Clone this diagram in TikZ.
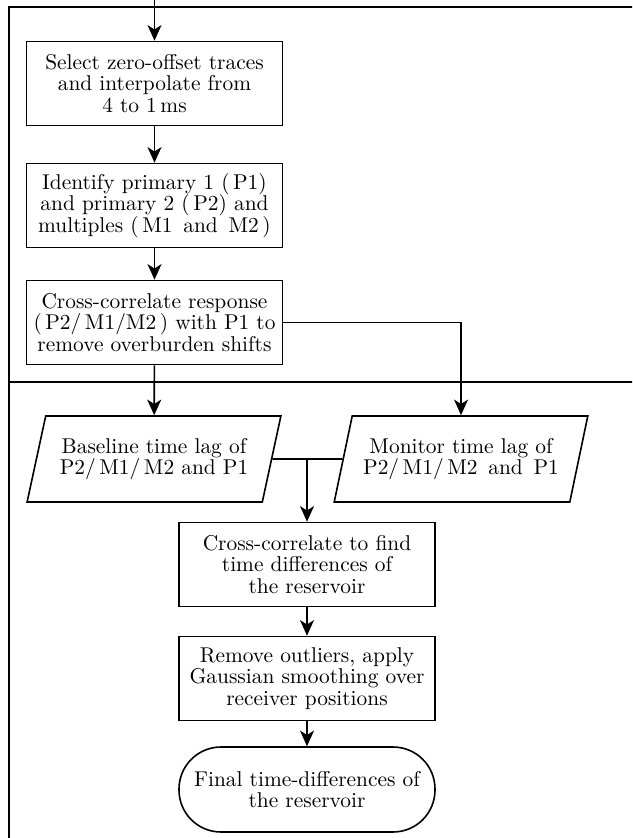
\documentclass[tikz,border=0pt]{standalone}
\usetikzlibrary{arrows.meta,shapes.geometric}
\begin{document}
\begin{tikzpicture}[x=0.5pt,y=-0.5pt,
  every node/.style={font=\fontsize{10.7}{10.85}\selectfont, align=center, inner sep=0pt},
  proc/.style={draw, line width=0.8pt, rectangle, minimum width=128pt, minimum height=42pt},
  io/.style={draw, line width=0.8pt, trapezium, trapezium left angle=69, trapezium right angle=111,
    trapezium stretches=true, minimum width=127pt, minimum height=43pt},
  term/.style={draw, line width=0.8pt, rectangle, rounded corners=21pt, minimum width=128pt, minimum height=42.5pt},
  frame/.style={line width=0.8pt},
  conn/.style={line width=0.8pt},
  arr/.style={line width=0.8pt, -{Stealth[length=7.8pt,width=7pt,inset=2.2pt]}}]
\clip (0,0) rectangle (632,838);
\draw[frame] (640,7.3) -- (9,7.3) -- (9,845);
\draw[frame] (9,382) -- (640,382);
\coordinate (top) at (154.5,-4);
\node[proc] (b1) at (154.5,83.5) {Select zero-offset traces\\ and interpolate from\\ 4 to 1\,ms\hspace*{10pt}};
\node[proc] (b2) at (154.5,205.5) {Identify primary 1 (\,P1)\\ and primary 2 (\,P2) and\\ multiples (\,M1\, and\, M2\,)};
\node[proc] (b3) at (154.5,322.5) {Cross-correlate response\\ (\,P2/\,M1/M2\,) with P1 to\\ remove overburden shifts};
\node[io] (p1) at (154,459) {Baseline time lag of\\ P2/\,M1/\,M2 and P1};
\node[io] (p2) at (461,459) {Monitor time lag of\\ P2/\,M1/\,M2\, and\, P1};
\node[proc] (b4) at (307,564.5) {Cross-correlate to find\\ time differences of\\ the reservoir};
\node[proc] (b5) at (307,678.5) {Remove outliers, apply\\ Gaussian smoothing over\\ receiver positions};
\node[term] (t) at (307,789.5) {Final time-differences of\\ the reservoir};
\draw[arr] (top) -- (b1.north);
\draw[arr] (b1) -- (b2);
\draw[arr] (b2) -- (b3);
\draw[arr] (b3) -- (p1);
\draw[arr] (b3.east) -| (p2.north);
\draw[conn] (p1.east) -- (p2.west);
\draw[arr] (p1.east -| b4.north) -- (b4.north);
\draw[arr] (b4) -- (b5);
\draw[arr] (b5) -- (t);
\end{tikzpicture}
\end{document}
